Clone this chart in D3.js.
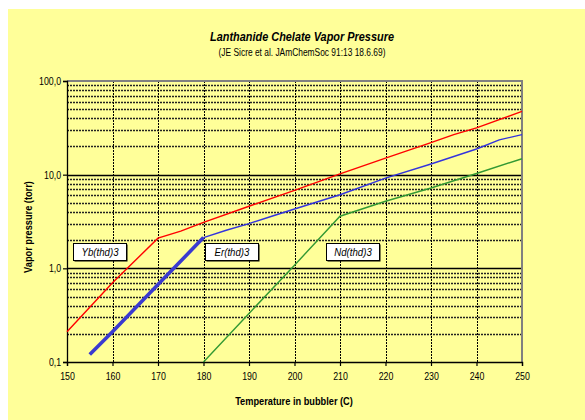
<!DOCTYPE html>
<html>
<head>
<meta charset="utf-8">
<script src="https://cdn.jsdelivr.net/npm/d3@7"></script>
<style>
  body { margin: 0; background: #fff; }
  svg text { font-family: "Liberation Sans", Arial, sans-serif; fill: #000; }
</style>
</head>
<body>
<svg id="chart"></svg>
<script>
// temperatures (C) and vapor pressures (torr)
const ybTemps = [150, 160, 170, 175, 180, 190, 200, 210, 220, 230, 235, 240, 250];
const ybValues = [0.21, 0.7, 2.1, 2.5, 3.1, 4.6, 6.8, 10.2, 15, 22, 26.8, 31.6, 47.5];

const erLowTemps = [155, 160, 170, 180];
const erLowValues = [0.12, 0.21, 0.67, 2.13];
const erTemps = [180, 185, 190, 195, 200, 210, 220, 230, 240, 245, 250];
const erValues = [2.13, 2.55, 3.0, 3.6, 4.3, 6.1, 9.2, 13, 18.8, 23.5, 26.8];

const ndTemps = [180, 190, 200, 210, 220, 230, 240, 250];
const ndValues = [0.1, 0.33, 1.08, 3.6, 5.2, 7.2, 10.3, 14.8];

const seriesNames = ["Yb(thd)3", "Er(thd)3", "Nd(thd)3"];
const labelTemps = [157.2, 186.2, 212.8];
const labelValue = 1.52;

const xTicks = [150, 160, 170, 180, 190, 200, 210, 220, 230, 240, 250];
const yTicks = [0.1, 1, 10, 100];
const yTickLabels = ["0,1", "1,0", "10,0", "100,0"];

const W = 585, H = 420;
const plot = { left: 67, right: 522, top: 81, bottom: 362 };
const narrow = 0.84; // the original uses a condensed face

const svg = d3.select("#chart").attr("width", W).attr("height", H);

svg.append("rect")
  .attr("x", 8).attr("y", 9)
  .attr("width", W - 8).attr("height", H - 9)
  .attr("fill", "#ffff99");

const x = d3.scaleLinear().domain([150, 250]).range([plot.left, plot.right]);
const y = d3.scaleLog().domain([0.1, 100]).range([plot.bottom, plot.top]);

// minor horizontal grid (2..9 of each decade)
let minor = [];
[0.1, 1, 10].forEach(d => { for (let k = 2; k <= 9; k++) minor.push(d * k); });

const grid = svg.append("g");
grid.selectAll(".minor").data(minor).join("line")
  .attr("x1", plot.left).attr("x2", plot.right)
  .attr("y1", d => Math.round(y(d)) + 0.5).attr("y2", d => Math.round(y(d)) + 0.5)
  .attr("stroke", "#222").attr("stroke-width", 1.4)
  .attr("stroke-dasharray", "2,1");

grid.selectAll(".vgrid").data(xTicks.slice(1, -1)).join("line")
  .attr("x1", d => Math.round(x(d)) + 0.5).attr("x2", d => Math.round(x(d)) + 0.5)
  .attr("y1", plot.top).attr("y2", plot.bottom)
  .attr("stroke", "#000").attr("stroke-width", 1)
  .attr("stroke-dasharray", "2,1");

grid.selectAll(".major").data([1, 10]).join("line")
  .attr("x1", plot.left).attr("x2", plot.right)
  .attr("y1", d => Math.round(y(d)) + 0.5).attr("y2", d => Math.round(y(d)) + 0.5)
  .attr("stroke", "#000").attr("stroke-width", 1.3);

// plot border (grey top/right)
svg.append("path")
  .attr("d", `M${plot.left},${plot.top}H${plot.right}V${plot.bottom}`)
  .attr("fill", "none").attr("stroke", "#808080").attr("stroke-width", 2);

// axes
const xAxis = svg.append("g")
  .attr("transform", `translate(0,${plot.bottom})`)
  .call(d3.axisBottom(x).tickValues(xTicks).tickSize(4).tickPadding(7).tickFormat(d3.format("d")));
const yAxis = svg.append("g")
  .attr("transform", `translate(${plot.left},0)`)
  .call(d3.axisLeft(y).tickValues(yTicks).tickSize(4).tickPadding(3)
    .tickFormat((d, i) => yTickLabels[i]));
[xAxis, yAxis].forEach(a => {
  a.select(".domain").attr("stroke", "#000").attr("stroke-width", 1.3);
  a.selectAll(".tick line").attr("stroke", "#000").attr("stroke-width", 1.2);
  a.selectAll("text").attr("font-size", 10.5)
    .attr("font-family", "'Liberation Sans', Arial, sans-serif")
    .attr("transform", `scale(${narrow},1)`);
});

// series lines
const line = d3.line().x(d => x(d[0])).y(d => y(d[1]));
const zip = (a, b) => a.map((t, i) => [t, b[i]]);

svg.append("path").datum(zip(ndTemps, ndValues)).attr("d", line)
  .attr("fill", "none").attr("stroke", "#339933").attr("stroke-width", 1.4);
svg.append("path").datum(zip(erTemps, erValues)).attr("d", line)
  .attr("fill", "none").attr("stroke", "#3333dd").attr("stroke-width", 1.4);
svg.append("path").datum(zip(erLowTemps, erLowValues)).attr("d", line)
  .attr("fill", "none").attr("stroke", "#3a3ad0").attr("stroke-width", 3.6)
  .attr("stroke-linejoin", "round");
svg.append("path").datum(zip(ybTemps, ybValues)).attr("d", line)
  .attr("fill", "none").attr("stroke", "#ff0000").attr("stroke-width", 1.4);

// series labels
const bw = 53, bh = 17;
const labels = svg.selectAll(".lab").data(seriesNames).join("g")
  .attr("transform", (d, i) => `translate(${Math.round(x(labelTemps[i]) - bw / 2)},${Math.round(y(labelValue) - bh / 2)})`);
labels.append("rect").attr("x", 1.5).attr("y", 1.5).attr("width", bw).attr("height", bh).attr("fill", "#000");
labels.append("rect").attr("x", 0.5).attr("y", 0.5).attr("width", bw).attr("height", bh)
  .attr("fill", "#fff").attr("stroke", "#000").attr("stroke-width", 1);
labels.append("text")
  .attr("transform", `translate(${bw / 2 + 0.5},${bh / 2 + 4.5}) scale(${narrow},1)`)
  .attr("text-anchor", "middle").attr("font-size", 11.5).attr("font-style", "italic")
  .text(d => d);

// titles
function addText(tx, ty, size, bold, italic, str, rot) {
  return svg.append("text")
    .attr("transform", `translate(${tx},${ty})${rot ? " rotate(-90)" : ""} scale(${narrow},1)`)
    .attr("text-anchor", "middle").attr("font-size", size)
    .attr("font-weight", bold ? "bold" : "normal")
    .attr("font-style", italic ? "italic" : "normal")
    .text(str);
}
addText(302, 41, 13, true, true, "Lanthanide Chelate Vapor Pressure");
addText(302, 56, 10, false, false, "(JE Sicre et al. JAmChemSoc 91:13 18.6.69)");
addText(294, 405, 11, true, false, "Temperature in bubbler (C)");
addText(32, 227, 11, true, false, "Vapor pressure (torr)", true);
</script>
</body>
</html>
